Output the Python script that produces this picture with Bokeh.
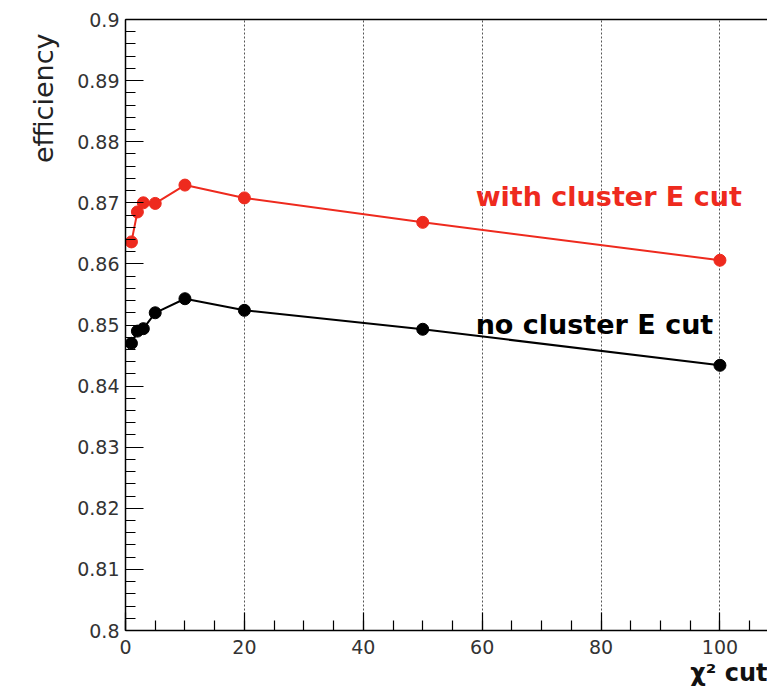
from bokeh.plotting import figure
from bokeh.models import (SingleIntervalTicker, NumeralTickFormatter, Label,
                          LinearAxis, FixedTicker, Range1d, Title)
from bokeh.embed import file_html
from bokeh.resources import INLINE

# ---- data ----
chi2_cut = [1, 2, 3, 5, 10, 20, 50, 100]
eff_with_E_cut = [0.8636, 0.8685, 0.8700, 0.8699, 0.8729, 0.8708, 0.8668, 0.8606]
eff_no_E_cut = [0.8470, 0.8490, 0.8494, 0.8520, 0.8543, 0.8524, 0.8493, 0.8434]

series_labels = ["with cluster E cut", "no cluster E cut"]
y_title = "efficiency"
x_title = "χ² cut"

RED = "#ee2a1e"
FONT = "DejaVu Sans"

p = figure(width=767, height=694, output_backend="svg", toolbar_location=None,
           x_range=Range1d(0, 108), y_range=Range1d(0.8, 0.9),
           min_border_left=125, min_border_right=0, min_border_top=19,
           min_border_bottom=64, background_fill_color="white",
           border_fill_color="white")
p.outline_line_color = None

# axes (ROOT style: ticks inside)
xa = p.xaxis[0]
xa.ticker = SingleIntervalTicker(interval=20, num_minor_ticks=4)
ya = p.yaxis[0]
ya.ticker = SingleIntervalTicker(interval=0.01, num_minor_ticks=5)
ya.formatter = NumeralTickFormatter(format="0.[00]")
for ax in (xa, ya):
    ax.axis_line_color = "black"
    ax.axis_line_width = 1.5
    ax.major_tick_in = 18
    ax.major_tick_out = 0
    ax.minor_tick_in = 10
    ax.minor_tick_out = 0
    ax.major_tick_line_color = "black"
    ax.minor_tick_line_color = "black"
    ax.major_tick_line_width = 1.2
    ax.minor_tick_line_width = 1.2
    ax.major_label_text_font = FONT
    ax.major_label_text_font_size = "19px"
    ax.major_label_text_color = "#333333"
xa.major_label_standoff = 9
ya.major_label_standoff = 6

# top frame line
top = LinearAxis(ticker=FixedTicker(ticks=[]), major_label_text_font_size="0px",
                 axis_line_color="black", axis_line_width=1.5,
                 major_tick_out=0, minor_tick_out=0)
p.add_layout(top, "above")

# grid: vertical dotted lines only
p.xgrid.grid_line_color = "#555555"
p.xgrid.grid_line_dash = "2 2"
p.xgrid.grid_line_width = 1
p.ygrid.grid_line_color = None

# series
p.line(chi2_cut, eff_with_E_cut, line_color=RED, line_width=2)
p.scatter(chi2_cut, eff_with_E_cut, size=12, fill_color=RED, line_color=RED)
p.line(chi2_cut, eff_no_E_cut, line_color="black", line_width=2)
p.scatter(chi2_cut, eff_no_E_cut, size=12, fill_color="black", line_color="black")

# in-plot texts
p.add_layout(Label(x=58.9, y=0.8711, text=series_labels[0], text_font=FONT,
                   text_font_size="27px", text_font_style="bold",
                   text_color=RED, text_baseline="alphabetic"))
p.add_layout(Label(x=58.9, y=0.8501, text=series_labels[1], text_font=FONT,
                   text_font_size="27px", text_font_style="bold",
                   text_color="black", text_baseline="alphabetic"))

# axis titles (ROOT style: at the far end of each axis)
p.add_layout(Title(text=y_title, align="right", text_font=FONT,
                   text_font_size="27px", text_font_style="normal",
                   text_color="#222222", standoff=32, offset=14), "left")
p.add_layout(Title(text=x_title, align="right", text_font=FONT,
                   text_font_size="24px", text_font_style="bold",
                   text_color="#111111", standoff=0), "below")

open("out.html", "w").write(file_html(p, INLINE))
